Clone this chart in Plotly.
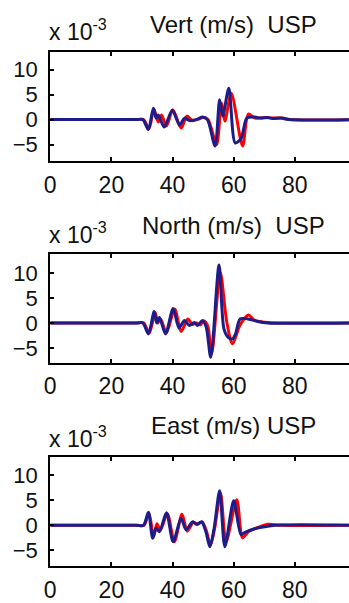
import plotly.graph_objects as go

# ---------------- data (velocity, x 10^-3 m/s) ----------------
titles = ["Vert (m/s)  USP", "North (m/s)  USP", "East (m/s) USP"]
x_ticks = [0, 20, 40, 60, 80]
y_ticks = [-5, 0, 5, 10]

vert_blue_t = [0, 28, 30.3, 32.1, 33.7, 34.6, 35.3, 37.3, 39.9, 42.3, 43.9, 45.5, 48.2, 49.8, 51.4, 53.9, 55.4, 56.4,
               58.4, 60.5, 62.4, 64.3, 66.9, 69, 71.2, 73, 75.5, 78, 100]
vert_blue_v = [0, 0, 0, -2.0, 2.3, 0.3, 0.9, -1.5, 1.9, -1.1, 0.3, -0.2, 0.1, 0.5, 0.0, -5.3, 4.0, 0.7,
               6.3, -4.7, -3.8, 0.3, 0.5, 0.3, 0.4, 0.2, 0.3, 0, 0]
vert_red_t = [0, 28, 30.5, 32.3, 33.9, 35.3, 36.4, 38.0, 40.1, 42.8, 44.7, 46.5, 48.4, 50.0, 51.6, 54.4, 56.0, 57.1,
              59.2, 62.9, 64.8, 67, 70, 73, 76, 78.5, 100]
vert_red_v = [0, 0, 0, -1.8, 2.2, -0.5, 0.9, -1.3, 2.0, -1.7, 0.7, -0.2, 0.1, 0.4, 0.0, -5.0, 3.3, -0.3,
              5.3, -5.3, 1.1, 0.3, 0.4, 0.3, 0.3, 0, 0]

north_blue_t = [0, 28, 30.3, 32.1, 34.0, 34.8, 35.7, 37.7, 40.2, 42.1, 43.9, 45.5, 47.1, 48.2, 49.8, 51.0, 52.5,
                55.2, 56.8, 58.2, 59.6, 60.6, 62.1, 64.7, 67.9, 71.1, 100]
north_blue_v = [0, 0, 0, -2.2, 2.3, 0.0, 1.1, -2.2, 2.9, -1.0, 0.5, -0.5, 0.1, -0.5, 0.5, -0.8, -6.9,
                11.6, -1.2, -2.9, -3.2, -2.2, 0.8, 0.8, 0.3, 0, 0]
north_red_t = [0, 28, 30.5, 32.4, 34.3, 35.2, 36.1, 38.0, 40.7, 42.8, 45.0, 46.5, 47.8, 49.0, 50.3, 51.5, 52.8,
               55.6, 57.7, 59.6, 62.0, 64.8, 66.9, 71, 100]
north_red_v = [0, 0, 0, -2.0, 2.1, 0.0, 0.8, -2.0, 2.8, -1.7, 0.8, -0.3, 0.0, -0.4, 0.4, -0.6, -6.2,
               10.1, 0.3, -4.2, -0.5, 1.6, 0.5, 0.1, 0]

east_blue_t = [0, 28, 30.5, 32.1, 33.5, 34.6, 35.7, 38.0, 40.2, 42.8, 44.4, 46.6, 47.9, 49.5, 50.9, 52.2, 53.6,
               55.4, 57.1, 60.0, 62.4, 63.7, 66.9, 70.1, 73.4, 100]
east_blue_v = [0, 0, 0, 2.6, -2.6, -0.6, -1.3, 2.5, -3.3, 1.4, -0.9, 0.7, 0.2, 0.7, -1.3, -4.3, -0.6,
               6.9, -4.3, 4.9, -1.9, -1.4, -0.7, -0.3, 0, 0]
east_red_t = [0, 28, 30.7, 32.3, 33.8, 34.9, 36.0, 38.3, 40.6, 43.1, 44.8, 46.8, 48.1, 49.7, 51.1, 52.4, 53.8,
              55.7, 57.5, 61.0, 62.9, 64.8, 68.5, 71.1, 75.4, 100]
east_red_v = [0, 0, 0, 2.4, -2.3, 0.3, -1.0, 2.3, -3.3, 2.2, -1.2, 0.6, 0.2, 0.6, -1.2, -4.0, -0.5,
              6.4, -3.3, 5.1, -2.5, -1.3, -0.3, 0.2, 0, 0]

panels = [
    (vert_red_t, vert_red_v, vert_blue_t, vert_blue_v),
    (north_red_t, north_red_v, north_blue_t, north_blue_v),
    (east_red_t, east_red_v, east_blue_t, east_blue_v),
]

# ---------------- layout geometry ----------------
W, H = 349, 603
FONT = "Liberation Sans, Arial, Helvetica, sans-serif"
RED = "#ff0000"
BLUE = "#1c1c8a"

y_domains = [[1 - 162 / H, 1 - 52 / H], [1 - 364 / H, 1 - 255 / H], [1 - 568 / H, 1 - 459 / H]]
y_ranges = [[-8.4, 13.6], [-8.0, 13.8], [-8.2, 13.6]]
title_y = [25, 226, 427]
exp_y = [30, 234, 438]

fig = go.Figure()
layout = dict(
    width=W, height=H, margin=dict(l=0, r=0, t=0, b=0),
    paper_bgcolor="white", plot_bgcolor="white", showlegend=False,
    font=dict(family=FONT, color="#111111"),
)
annotations = []
for i, (rt, rv, bt, bv) in enumerate(panels):
    n = "" if i == 0 else str(i + 1)
    xa, ya = "x" + n, "y" + n
    fig.add_trace(go.Scatter(x=rt, y=rv, mode="lines", xaxis=xa, yaxis=ya,
                             line=dict(color=RED, width=3, shape="spline", smoothing=0.8)))
    fig.add_trace(go.Scatter(x=bt, y=bv, mode="lines", xaxis=xa, yaxis=ya,
                             line=dict(color=BLUE, width=3, shape="spline", smoothing=0.8)))
    layout["xaxis" + n] = dict(
        domain=[45 / W, 1], range=[0, 97.7], anchor=ya,
        tickvals=x_ticks, ticks="inside", ticklen=4, tickwidth=1.5, tickcolor="black",
        showline=True, linewidth=2, linecolor="black", mirror="ticks",
        showgrid=False, zeroline=False, tickfont=dict(size=23, family=FONT, color="#111"),
        ticklabelstandoff=2,
    )
    layout["yaxis" + n] = dict(
        domain=y_domains[i], range=y_ranges[i], anchor=xa,
        tickvals=y_ticks, ticks="inside", ticklen=4, tickwidth=1.5, tickcolor="black",
        showline=True, linewidth=2, linecolor="black", mirror=False,
        showgrid=False, zeroline=False, tickfont=dict(size=22, family=FONT, color="#111"),
        ticklabelstandoff=6,
    )
    annotations.append(dict(text=titles[i], xref="paper", yref="paper", x=231 / W, y=1 - title_y[i] / H,
                            xanchor="center", yanchor="middle", showarrow=False,
                            font=dict(size=24, family=FONT, color="#111")))
    annotations.append(dict(text="x 10<sup>-3</sup>", xref="paper", yref="paper", x=42 / W, y=1 - exp_y[i] / H,
                            xanchor="left", yanchor="middle", showarrow=False,
                            font=dict(size=23, family=FONT, color="#111")))
layout["annotations"] = annotations
fig.update_layout(**layout)

fig.write_html("out.html", config={"displayModeBar": False},
               post_script="document.body.style.margin='0';document.body.style.overflow='hidden';")
